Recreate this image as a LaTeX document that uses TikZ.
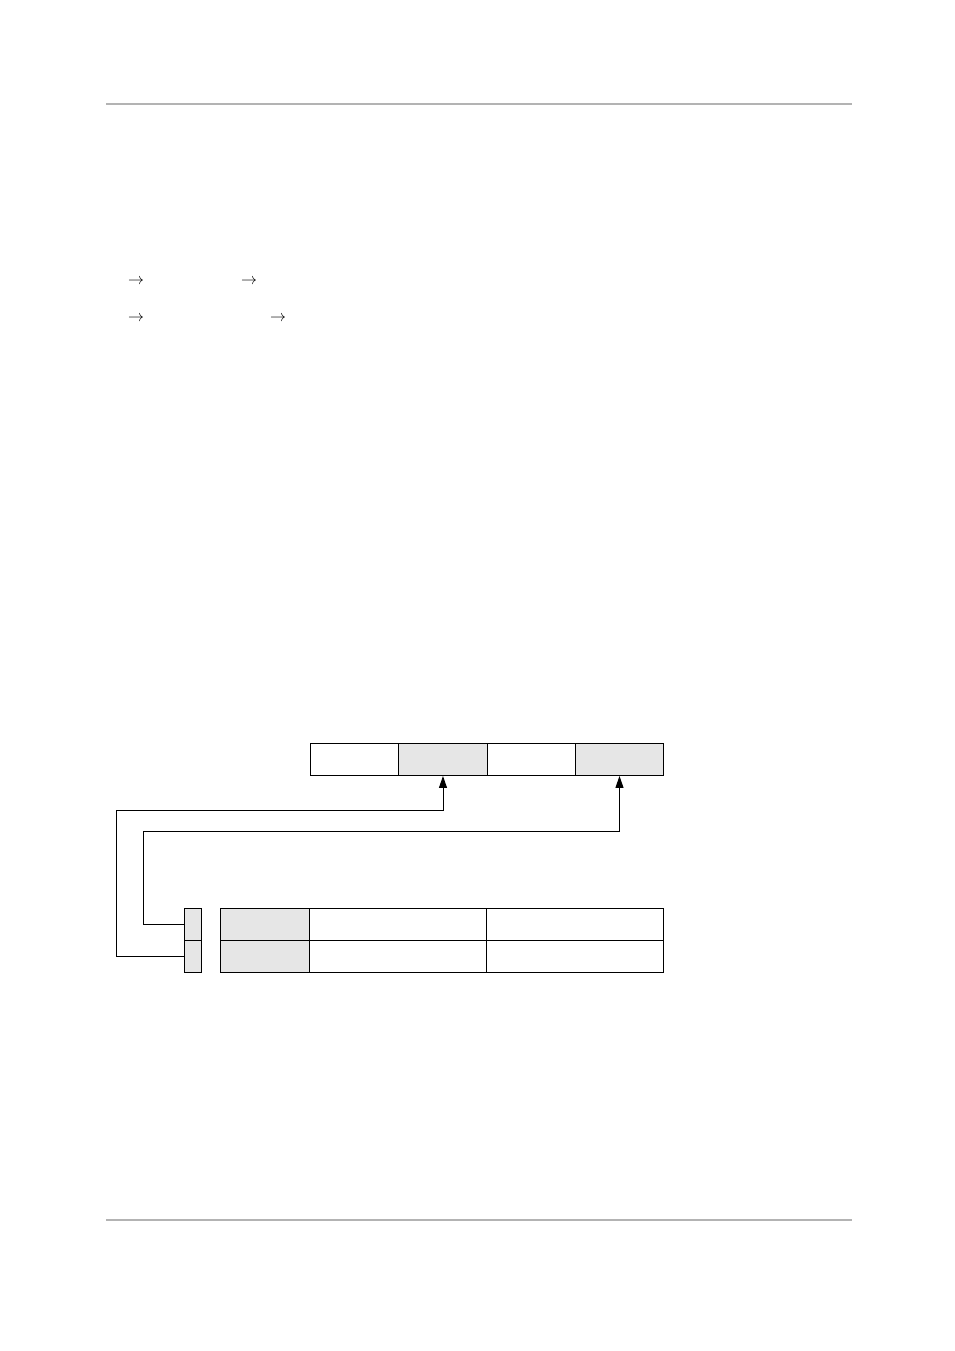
\documentclass[tikz,border=0pt]{standalone}
\usepackage{tikz}
\usetikzlibrary{arrows.meta, positioning}
\newlength\pxu
\setlength\pxu{0.022013cm}
\definecolor{rulegray}{HTML}{B3B3B3}
\definecolor{cellgray}{HTML}{E6E6E6}

\begin{document}
\begin{tikzpicture}[
  x=\pxu, y=-\pxu,
  rule/.style={rulegray, line width=0.7pt},
  cell/.style={draw, line width=0.6pt, inner sep=0pt, anchor=north west, minimum height=32\pxu},
  shaded/.style={cell, fill=cellgray},
  link/.style={line width=0.6pt, -{Triangle[width=5pt, length=7.5pt]}}
]
\useasboundingbox (0,0) rectangle (954,1351);
% page rules
\draw[rule] (106,104) -- (852,104);
\draw[rule] (106,1220) -- (852,1220);
% arrows of the text lines
\node (a1) at (136,282) {$\rightarrow$};
\node (a2) at (249,282) {$\rightarrow$};
\node (a3) at (136,319) {$\rightarrow$};
\node (a4) at (278,319) {$\rightarrow$};
% upper row
\node[cell, minimum width=88\pxu] (t1) at (310,743) {};
\node[shaded, minimum width=89\pxu] (t2) at (398,743) {};
\node[cell, minimum width=88\pxu] (t3) at (487,743) {};
\node[shaded, minimum width=88\pxu] (t4) at (575,743) {};
% flags
\node[shaded, minimum width=17\pxu] (f1) at (184,908) {};
\node[shaded, minimum width=17\pxu] (f2) at (184,940) {};
% lower table
\node[shaded, minimum width=89\pxu] (r1c1) at (220,908) {};
\node[cell, minimum width=177\pxu] (r1c2) at (309,908) {};
\node[cell, minimum width=177\pxu] (r1c3) at (486,908) {};
\node[shaded, minimum width=89\pxu] (r2c1) at (220,940) {};
\node[cell, minimum width=177\pxu] (r2c2) at (309,940) {};
\node[cell, minimum width=177\pxu] (r2c3) at (486,940) {};
% links
\draw[link] (f2.west) -| (116,810) -| (t2.south);
\draw[link] (f1.west) -| (143,831) -| (t4.south);
\end{tikzpicture}
\end{document}
